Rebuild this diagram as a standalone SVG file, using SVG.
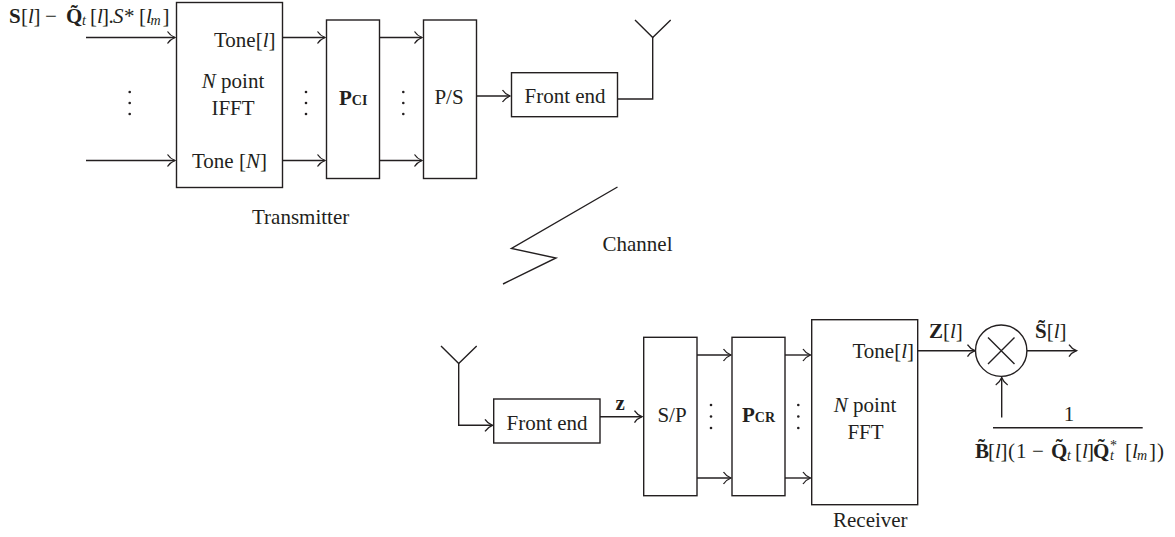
<svg xmlns="http://www.w3.org/2000/svg" width="1175" height="537" viewBox="0 0 1175 537">
<style>
text{font-family:"Liberation Serif","Times New Roman",serif;font-size:21px;fill:#231f20}
.m{text-anchor:middle}
.i{font-style:italic}
.b{font-weight:bold}
.s{font-size:14px}
.box{fill:#fff;stroke:#231f20;stroke-width:1.4}
.w{fill:none;stroke:#231f20;stroke-width:1.4}
.a{marker-end:url(#arr)}
.d{fill:#231f20}
</style>
<defs>
<marker id="arr" markerUnits="userSpaceOnUse" markerWidth="12" markerHeight="16" refX="10" refY="8" orient="auto">
<path d="M2.5 2Q5 6 10 8Q5 10 2.5 14" fill="none" stroke="#231f20" stroke-width="1.3"/>
</marker>
</defs>
<rect width="1175" height="537" fill="#fff"/>
<g id="connectors">
<path class="w a" d="M86 37.5H175"/>
<path class="w a" d="M86 160.5H175"/>
<path class="w a" d="M282.5 37.5H325"/>
<path class="w a" d="M282.5 160.5H325"/>
<path class="w a" d="M379.5 37.5H422"/>
<path class="w a" d="M379.5 160.5H422"/>
<path class="w a" d="M476.5 96H510"/>
<path class="w" d="M617.5 99H652.7V37"/>
<path class="w a" d="M458.7 363V425.3H492.5"/>
<path class="w a" d="M600 416.7H642"/>
<path class="w a" d="M697 355H731"/>
<path class="w a" d="M697 478H731"/>
<path class="w a" d="M785 355H810.5"/>
<path class="w a" d="M785 478H810.5"/>
<path class="w a" d="M917.7 350.7H975"/>
<path class="w a" d="M1027 350.7H1076.5"/>
<path class="w a" d="M1001.7 417.5V377.5"/>
</g>
<g id="input-labels">
<text y="23"><tspan class="b" x="9">S</tspan><tspan x="21">[</tspan><tspan class="i" x="28">l</tspan><tspan x="33.5">]</tspan><tspan x="45">−</tspan><tspan class="b" x="66">Q̃</tspan><tspan class="i s" x="82" dy="2">t</tspan><tspan x="90" dy="-2">[</tspan><tspan class="i" x="97">l</tspan><tspan x="102">]</tspan><tspan x="108.5">.</tspan><tspan class="i" x="113">S</tspan><tspan x="124">*</tspan><tspan x="139">[</tspan><tspan class="i" x="146">l</tspan><tspan class="i s" x="150.5" dy="2">m</tspan><tspan x="162.5" dy="-2">]</tspan></text>
<g class="d"><circle cx="129.7" cy="92" r="1.3"/><circle cx="129.7" cy="103" r="1.3"/><circle cx="129.7" cy="114" r="1.3"/></g>
</g>
<g id="ifft">
<rect class="box" x="176.5" y="2.5" width="106" height="185"/>
<text x="214" y="47">Tone[<tspan class="i">l</tspan>]</text>
<text class="m" x="233" y="88"><tspan class="i">N</tspan> point</text>
<text class="m" x="233" y="115">IFFT</text>
<text x="192" y="168">Tone [<tspan class="i">N</tspan>]</text>
</g>
<g id="dots-ifft-pci" class="d"><circle cx="306" cy="92" r="1.3"/><circle cx="306" cy="103" r="1.3"/><circle cx="306" cy="114" r="1.3"/></g>
<g id="pci">
<rect class="box" x="326.5" y="20" width="53" height="158.5"/>
<text x="339" y="104.5"><tspan class="b">P</tspan><tspan class="b s">CI</tspan></text>
</g>
<g id="dots-pci-ps" class="d"><circle cx="403.3" cy="92" r="1.3"/><circle cx="403.3" cy="103" r="1.3"/><circle cx="403.3" cy="114" r="1.3"/></g>
<g id="ps">
<rect class="box" x="423.5" y="20" width="53" height="158.5"/>
<text class="m" x="449" y="104">P/S</text>
</g>
<g id="tx-front-end">
<rect class="box" x="511.5" y="72.7" width="106" height="44"/>
<text class="m" x="565" y="103">Front end</text>
</g>
<g id="tx-antenna"><path class="w" d="M635 20L652.7 37.5L670.7 20"/></g>
<g id="transmitter-label"><text x="252" y="224">Transmitter</text></g>
<g id="channel">
<path class="w" d="M617.5 187L511.5 248.5L556 258L503 284"/>
<text x="602.5" y="251">Channel</text>
</g>
<g id="rx-antenna"><path class="w" d="M441 346L458.7 363.5L476.7 346"/></g>
<g id="rx-front-end">
<rect class="box" x="493.7" y="399" width="106.3" height="44"/>
<text class="m" x="547" y="430">Front end</text>
</g>
<g id="z-label"><text class="b" x="615.5" y="410">z</text></g>
<g id="sp">
<rect class="box" x="643.7" y="337.3" width="53.3" height="158.4"/>
<text class="m" x="672" y="421.7">S/P</text>
</g>
<g id="dots-sp-pcr" class="d"><circle cx="711" cy="405" r="1.3"/><circle cx="711" cy="416.5" r="1.3"/><circle cx="711" cy="428" r="1.3"/></g>
<g id="pcr">
<rect class="box" x="732" y="337.3" width="53" height="158.4"/>
<text x="742" y="421.7"><tspan class="b">P</tspan><tspan class="b s">CR</tspan></text>
</g>
<g id="dots-pcr-fft" class="d"><circle cx="798.3" cy="405" r="1.3"/><circle cx="798.3" cy="416.5" r="1.3"/><circle cx="798.3" cy="428" r="1.3"/></g>
<g id="fft">
<rect class="box" x="811.7" y="319.7" width="106" height="185"/>
<text x="852.5" y="357.7">Tone[<tspan class="i">l</tspan>]</text>
<text class="m" x="865" y="412"><tspan class="i">N</tspan> point</text>
<text class="m" x="865.5" y="439">FFT</text>
</g>
<g id="receiver-label"><text x="833" y="526.7">Receiver</text></g>
<g id="z-l-label"><text x="929" y="338"><tspan class="b">Z</tspan>[<tspan class="i">l</tspan>]</text></g>
<g id="mixer">
<circle class="box" cx="1001.2" cy="350.7" r="25.7"/>
<path class="w" d="M988 337.5L1014.5 364M1014.5 337.5L988 364"/>
</g>
<g id="s-label"><text x="1035" y="338"><tspan class="b">S̃</tspan>[<tspan class="i">l</tspan>]</text></g>
<g id="fraction">
<text class="m" x="1069" y="420.7">1</text>
<path class="w" d="M993 427.7H1142.7"/>
<text y="457.7"><tspan class="b" x="975">B̃</tspan><tspan x="988">[</tspan><tspan class="i" x="995">l</tspan><tspan x="1000.5">]</tspan><tspan x="1008">(</tspan><tspan x="1016">1</tspan><tspan x="1032">−</tspan><tspan class="b" x="1051">Q̃</tspan><tspan class="i s" x="1067" dy="2">t</tspan><tspan x="1075" dy="-2">[</tspan><tspan class="i" x="1082">l</tspan><tspan x="1087">]</tspan><tspan class="b" x="1093">Q̃</tspan><tspan class="s" x="1110" dy="-8">*</tspan><tspan class="i s" x="1110" dy="10">t</tspan><tspan x="1125" dy="-2">[</tspan><tspan class="i" x="1132">l</tspan><tspan class="i s" x="1137" dy="2">m</tspan><tspan x="1149" dy="-2">]</tspan><tspan x="1157">)</tspan></text>
</g>
</svg>
